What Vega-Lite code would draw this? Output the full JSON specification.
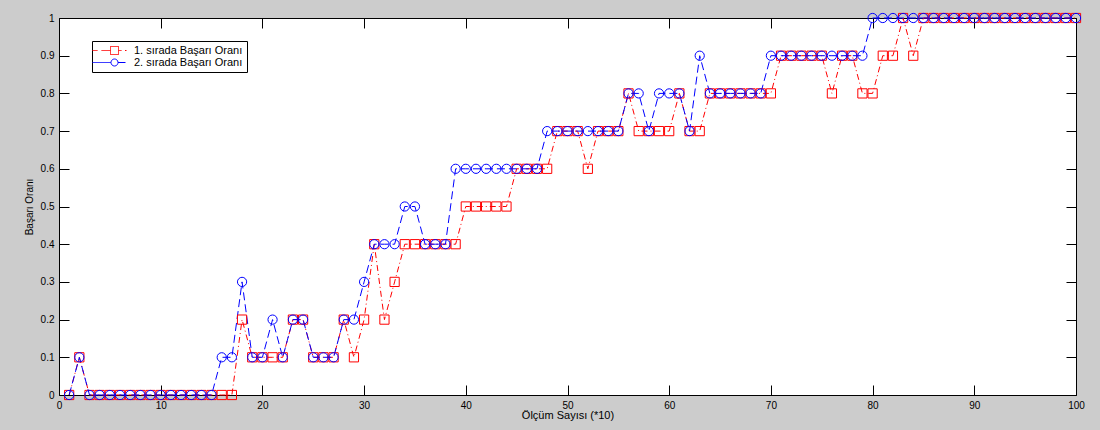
{
  "$schema": "https://vega.github.io/schema/vega-lite/v6.json",
  "width": 1017,
  "height": 377,
  "autosize": {"type": "none"},
  "padding": {"left": 59, "top": 18, "right": 24, "bottom": 35},
  "background": "#cccccc",
  "config": {
    "view": {"stroke": "#000000", "strokeWidth": 1, "fill": "#ffffff"},
    "font": "Liberation Sans",
    "axis": {
      "tickSize": -10,
      "tickColor": "#000000",
      "tickWidth": 1,
      "domain": false,
      "grid": false,
      "labelFont": "Liberation Sans",
      "labelFontSize": 10,
      "labelColor": "#000000",
      "labelPadding": 15,
      "titleFont": "Liberation Sans",
      "titleFontWeight": "normal",
      "titleColor": "#000000"
    }
  },
  "data": {
    "values": [
      {"n":1,"s":"1. sırada Başarı Oranı","v":0},
      {"n":2,"s":"1. sırada Başarı Oranı","v":0.1},
      {"n":3,"s":"1. sırada Başarı Oranı","v":0},
      {"n":4,"s":"1. sırada Başarı Oranı","v":0},
      {"n":5,"s":"1. sırada Başarı Oranı","v":0},
      {"n":6,"s":"1. sırada Başarı Oranı","v":0},
      {"n":7,"s":"1. sırada Başarı Oranı","v":0},
      {"n":8,"s":"1. sırada Başarı Oranı","v":0},
      {"n":9,"s":"1. sırada Başarı Oranı","v":0},
      {"n":10,"s":"1. sırada Başarı Oranı","v":0},
      {"n":11,"s":"1. sırada Başarı Oranı","v":0},
      {"n":12,"s":"1. sırada Başarı Oranı","v":0},
      {"n":13,"s":"1. sırada Başarı Oranı","v":0},
      {"n":14,"s":"1. sırada Başarı Oranı","v":0},
      {"n":15,"s":"1. sırada Başarı Oranı","v":0},
      {"n":16,"s":"1. sırada Başarı Oranı","v":0},
      {"n":17,"s":"1. sırada Başarı Oranı","v":0},
      {"n":18,"s":"1. sırada Başarı Oranı","v":0.2},
      {"n":19,"s":"1. sırada Başarı Oranı","v":0.1},
      {"n":20,"s":"1. sırada Başarı Oranı","v":0.1},
      {"n":21,"s":"1. sırada Başarı Oranı","v":0.1},
      {"n":22,"s":"1. sırada Başarı Oranı","v":0.1},
      {"n":23,"s":"1. sırada Başarı Oranı","v":0.2},
      {"n":24,"s":"1. sırada Başarı Oranı","v":0.2},
      {"n":25,"s":"1. sırada Başarı Oranı","v":0.1},
      {"n":26,"s":"1. sırada Başarı Oranı","v":0.1},
      {"n":27,"s":"1. sırada Başarı Oranı","v":0.1},
      {"n":28,"s":"1. sırada Başarı Oranı","v":0.2},
      {"n":29,"s":"1. sırada Başarı Oranı","v":0.1},
      {"n":30,"s":"1. sırada Başarı Oranı","v":0.2},
      {"n":31,"s":"1. sırada Başarı Oranı","v":0.4},
      {"n":32,"s":"1. sırada Başarı Oranı","v":0.2},
      {"n":33,"s":"1. sırada Başarı Oranı","v":0.3},
      {"n":34,"s":"1. sırada Başarı Oranı","v":0.4},
      {"n":35,"s":"1. sırada Başarı Oranı","v":0.4},
      {"n":36,"s":"1. sırada Başarı Oranı","v":0.4},
      {"n":37,"s":"1. sırada Başarı Oranı","v":0.4},
      {"n":38,"s":"1. sırada Başarı Oranı","v":0.4},
      {"n":39,"s":"1. sırada Başarı Oranı","v":0.4},
      {"n":40,"s":"1. sırada Başarı Oranı","v":0.5},
      {"n":41,"s":"1. sırada Başarı Oranı","v":0.5},
      {"n":42,"s":"1. sırada Başarı Oranı","v":0.5},
      {"n":43,"s":"1. sırada Başarı Oranı","v":0.5},
      {"n":44,"s":"1. sırada Başarı Oranı","v":0.5},
      {"n":45,"s":"1. sırada Başarı Oranı","v":0.6},
      {"n":46,"s":"1. sırada Başarı Oranı","v":0.6},
      {"n":47,"s":"1. sırada Başarı Oranı","v":0.6},
      {"n":48,"s":"1. sırada Başarı Oranı","v":0.6},
      {"n":49,"s":"1. sırada Başarı Oranı","v":0.7},
      {"n":50,"s":"1. sırada Başarı Oranı","v":0.7},
      {"n":51,"s":"1. sırada Başarı Oranı","v":0.7},
      {"n":52,"s":"1. sırada Başarı Oranı","v":0.6},
      {"n":53,"s":"1. sırada Başarı Oranı","v":0.7},
      {"n":54,"s":"1. sırada Başarı Oranı","v":0.7},
      {"n":55,"s":"1. sırada Başarı Oranı","v":0.7},
      {"n":56,"s":"1. sırada Başarı Oranı","v":0.8},
      {"n":57,"s":"1. sırada Başarı Oranı","v":0.7},
      {"n":58,"s":"1. sırada Başarı Oranı","v":0.7},
      {"n":59,"s":"1. sırada Başarı Oranı","v":0.7},
      {"n":60,"s":"1. sırada Başarı Oranı","v":0.7},
      {"n":61,"s":"1. sırada Başarı Oranı","v":0.8},
      {"n":62,"s":"1. sırada Başarı Oranı","v":0.7},
      {"n":63,"s":"1. sırada Başarı Oranı","v":0.7},
      {"n":64,"s":"1. sırada Başarı Oranı","v":0.8},
      {"n":65,"s":"1. sırada Başarı Oranı","v":0.8},
      {"n":66,"s":"1. sırada Başarı Oranı","v":0.8},
      {"n":67,"s":"1. sırada Başarı Oranı","v":0.8},
      {"n":68,"s":"1. sırada Başarı Oranı","v":0.8},
      {"n":69,"s":"1. sırada Başarı Oranı","v":0.8},
      {"n":70,"s":"1. sırada Başarı Oranı","v":0.8},
      {"n":71,"s":"1. sırada Başarı Oranı","v":0.9},
      {"n":72,"s":"1. sırada Başarı Oranı","v":0.9},
      {"n":73,"s":"1. sırada Başarı Oranı","v":0.9},
      {"n":74,"s":"1. sırada Başarı Oranı","v":0.9},
      {"n":75,"s":"1. sırada Başarı Oranı","v":0.9},
      {"n":76,"s":"1. sırada Başarı Oranı","v":0.8},
      {"n":77,"s":"1. sırada Başarı Oranı","v":0.9},
      {"n":78,"s":"1. sırada Başarı Oranı","v":0.9},
      {"n":79,"s":"1. sırada Başarı Oranı","v":0.8},
      {"n":80,"s":"1. sırada Başarı Oranı","v":0.8},
      {"n":81,"s":"1. sırada Başarı Oranı","v":0.9},
      {"n":82,"s":"1. sırada Başarı Oranı","v":0.9},
      {"n":83,"s":"1. sırada Başarı Oranı","v":1},
      {"n":84,"s":"1. sırada Başarı Oranı","v":0.9},
      {"n":85,"s":"1. sırada Başarı Oranı","v":1},
      {"n":86,"s":"1. sırada Başarı Oranı","v":1},
      {"n":87,"s":"1. sırada Başarı Oranı","v":1},
      {"n":88,"s":"1. sırada Başarı Oranı","v":1},
      {"n":89,"s":"1. sırada Başarı Oranı","v":1},
      {"n":90,"s":"1. sırada Başarı Oranı","v":1},
      {"n":91,"s":"1. sırada Başarı Oranı","v":1},
      {"n":92,"s":"1. sırada Başarı Oranı","v":1},
      {"n":93,"s":"1. sırada Başarı Oranı","v":1},
      {"n":94,"s":"1. sırada Başarı Oranı","v":1},
      {"n":95,"s":"1. sırada Başarı Oranı","v":1},
      {"n":96,"s":"1. sırada Başarı Oranı","v":1},
      {"n":97,"s":"1. sırada Başarı Oranı","v":1},
      {"n":98,"s":"1. sırada Başarı Oranı","v":1},
      {"n":99,"s":"1. sırada Başarı Oranı","v":1},
      {"n":100,"s":"1. sırada Başarı Oranı","v":1},
      {"n":1,"s":"2. sırada Başarı Oranı","v":0},
      {"n":2,"s":"2. sırada Başarı Oranı","v":0.1},
      {"n":3,"s":"2. sırada Başarı Oranı","v":0},
      {"n":4,"s":"2. sırada Başarı Oranı","v":0},
      {"n":5,"s":"2. sırada Başarı Oranı","v":0},
      {"n":6,"s":"2. sırada Başarı Oranı","v":0},
      {"n":7,"s":"2. sırada Başarı Oranı","v":0},
      {"n":8,"s":"2. sırada Başarı Oranı","v":0},
      {"n":9,"s":"2. sırada Başarı Oranı","v":0},
      {"n":10,"s":"2. sırada Başarı Oranı","v":0},
      {"n":11,"s":"2. sırada Başarı Oranı","v":0},
      {"n":12,"s":"2. sırada Başarı Oranı","v":0},
      {"n":13,"s":"2. sırada Başarı Oranı","v":0},
      {"n":14,"s":"2. sırada Başarı Oranı","v":0},
      {"n":15,"s":"2. sırada Başarı Oranı","v":0},
      {"n":16,"s":"2. sırada Başarı Oranı","v":0.1},
      {"n":17,"s":"2. sırada Başarı Oranı","v":0.1},
      {"n":18,"s":"2. sırada Başarı Oranı","v":0.3},
      {"n":19,"s":"2. sırada Başarı Oranı","v":0.1},
      {"n":20,"s":"2. sırada Başarı Oranı","v":0.1},
      {"n":21,"s":"2. sırada Başarı Oranı","v":0.2},
      {"n":22,"s":"2. sırada Başarı Oranı","v":0.1},
      {"n":23,"s":"2. sırada Başarı Oranı","v":0.2},
      {"n":24,"s":"2. sırada Başarı Oranı","v":0.2},
      {"n":25,"s":"2. sırada Başarı Oranı","v":0.1},
      {"n":26,"s":"2. sırada Başarı Oranı","v":0.1},
      {"n":27,"s":"2. sırada Başarı Oranı","v":0.1},
      {"n":28,"s":"2. sırada Başarı Oranı","v":0.2},
      {"n":29,"s":"2. sırada Başarı Oranı","v":0.2},
      {"n":30,"s":"2. sırada Başarı Oranı","v":0.3},
      {"n":31,"s":"2. sırada Başarı Oranı","v":0.4},
      {"n":32,"s":"2. sırada Başarı Oranı","v":0.4},
      {"n":33,"s":"2. sırada Başarı Oranı","v":0.4},
      {"n":34,"s":"2. sırada Başarı Oranı","v":0.5},
      {"n":35,"s":"2. sırada Başarı Oranı","v":0.5},
      {"n":36,"s":"2. sırada Başarı Oranı","v":0.4},
      {"n":37,"s":"2. sırada Başarı Oranı","v":0.4},
      {"n":38,"s":"2. sırada Başarı Oranı","v":0.4},
      {"n":39,"s":"2. sırada Başarı Oranı","v":0.6},
      {"n":40,"s":"2. sırada Başarı Oranı","v":0.6},
      {"n":41,"s":"2. sırada Başarı Oranı","v":0.6},
      {"n":42,"s":"2. sırada Başarı Oranı","v":0.6},
      {"n":43,"s":"2. sırada Başarı Oranı","v":0.6},
      {"n":44,"s":"2. sırada Başarı Oranı","v":0.6},
      {"n":45,"s":"2. sırada Başarı Oranı","v":0.6},
      {"n":46,"s":"2. sırada Başarı Oranı","v":0.6},
      {"n":47,"s":"2. sırada Başarı Oranı","v":0.6},
      {"n":48,"s":"2. sırada Başarı Oranı","v":0.7},
      {"n":49,"s":"2. sırada Başarı Oranı","v":0.7},
      {"n":50,"s":"2. sırada Başarı Oranı","v":0.7},
      {"n":51,"s":"2. sırada Başarı Oranı","v":0.7},
      {"n":52,"s":"2. sırada Başarı Oranı","v":0.7},
      {"n":53,"s":"2. sırada Başarı Oranı","v":0.7},
      {"n":54,"s":"2. sırada Başarı Oranı","v":0.7},
      {"n":55,"s":"2. sırada Başarı Oranı","v":0.7},
      {"n":56,"s":"2. sırada Başarı Oranı","v":0.8},
      {"n":57,"s":"2. sırada Başarı Oranı","v":0.8},
      {"n":58,"s":"2. sırada Başarı Oranı","v":0.7},
      {"n":59,"s":"2. sırada Başarı Oranı","v":0.8},
      {"n":60,"s":"2. sırada Başarı Oranı","v":0.8},
      {"n":61,"s":"2. sırada Başarı Oranı","v":0.8},
      {"n":62,"s":"2. sırada Başarı Oranı","v":0.7},
      {"n":63,"s":"2. sırada Başarı Oranı","v":0.9},
      {"n":64,"s":"2. sırada Başarı Oranı","v":0.8},
      {"n":65,"s":"2. sırada Başarı Oranı","v":0.8},
      {"n":66,"s":"2. sırada Başarı Oranı","v":0.8},
      {"n":67,"s":"2. sırada Başarı Oranı","v":0.8},
      {"n":68,"s":"2. sırada Başarı Oranı","v":0.8},
      {"n":69,"s":"2. sırada Başarı Oranı","v":0.8},
      {"n":70,"s":"2. sırada Başarı Oranı","v":0.9},
      {"n":71,"s":"2. sırada Başarı Oranı","v":0.9},
      {"n":72,"s":"2. sırada Başarı Oranı","v":0.9},
      {"n":73,"s":"2. sırada Başarı Oranı","v":0.9},
      {"n":74,"s":"2. sırada Başarı Oranı","v":0.9},
      {"n":75,"s":"2. sırada Başarı Oranı","v":0.9},
      {"n":76,"s":"2. sırada Başarı Oranı","v":0.9},
      {"n":77,"s":"2. sırada Başarı Oranı","v":0.9},
      {"n":78,"s":"2. sırada Başarı Oranı","v":0.9},
      {"n":79,"s":"2. sırada Başarı Oranı","v":0.9},
      {"n":80,"s":"2. sırada Başarı Oranı","v":1},
      {"n":81,"s":"2. sırada Başarı Oranı","v":1},
      {"n":82,"s":"2. sırada Başarı Oranı","v":1},
      {"n":83,"s":"2. sırada Başarı Oranı","v":1},
      {"n":84,"s":"2. sırada Başarı Oranı","v":1},
      {"n":85,"s":"2. sırada Başarı Oranı","v":1},
      {"n":86,"s":"2. sırada Başarı Oranı","v":1},
      {"n":87,"s":"2. sırada Başarı Oranı","v":1},
      {"n":88,"s":"2. sırada Başarı Oranı","v":1},
      {"n":89,"s":"2. sırada Başarı Oranı","v":1},
      {"n":90,"s":"2. sırada Başarı Oranı","v":1},
      {"n":91,"s":"2. sırada Başarı Oranı","v":1},
      {"n":92,"s":"2. sırada Başarı Oranı","v":1},
      {"n":93,"s":"2. sırada Başarı Oranı","v":1},
      {"n":94,"s":"2. sırada Başarı Oranı","v":1},
      {"n":95,"s":"2. sırada Başarı Oranı","v":1},
      {"n":96,"s":"2. sırada Başarı Oranı","v":1},
      {"n":97,"s":"2. sırada Başarı Oranı","v":1},
      {"n":98,"s":"2. sırada Başarı Oranı","v":1},
      {"n":99,"s":"2. sırada Başarı Oranı","v":1},
      {"n":100,"s":"2. sırada Başarı Oranı","v":1}
    ]
  },
  "resolve": {"axis": {"x": "independent", "y": "independent"}},
  "layer": [
    {
      "mark": {"type": "line", "strokeWidth": 1},
      "encoding": {
        "x": {
          "field": "n", "type": "quantitative",
          "scale": {"domain": [0, 100], "nice": false, "zero": false},
          "axis": {"orient": "bottom", "values": [0,10,20,30,40,50,60,70,80,90,100], "labelFlush": false, "title": "Ölçüm Sayısı (*10)", "titleFontSize": 11, "titlePadding": -1}
        },
        "y": {
          "field": "v", "type": "quantitative",
          "scale": {"domain": [0, 1], "nice": false},
          "axis": {"orient": "left", "values": [0,0.1,0.2,0.3,0.4,0.5,0.6,0.7,0.8,0.9,1], "format": ".1~f", "title": "Başarı Oranı", "titleFontSize": 10, "titlePadding": 6}
        },
        "color": {
          "field": "s", "type": "nominal",
          "scale": {"domain": ["1. sırada Başarı Oranı", "2. sırada Başarı Oranı"], "range": ["#ff0000", "#0000ff"]},
          "legend": {
            "orient": "none", "legendX": 33, "legendY": 23, "title": null,
            "fillColor": "#ffffff", "strokeColor": "#000000", "padding": 4, "cornerRadius": 0,
            "labelFont": "Liberation Sans", "labelFontSize": 11, "labelColor": "#000000",
            "symbolSize": 100, "symbolOffset": 13, "labelOffset": 14, "rowPadding": -2,
            "encode": {
              "symbols": {
                "update": {
                  "shape": {"signal": "datum.value === '1. sırada Başarı Oranı' ? 'M-4.4,0L-3.4,0M-2.6,0L-0.8,0M-0.8,-0.8L0.8,-0.8L0.8,0.8L-0.8,0.8ZM0.8,0L1.4,0M2.1,0L2.4,0' : 'M-4.4,0L-0.7,0M0.7,0A0.7,0.7,0,1,1,-0.7,0A0.7,0.7,0,1,1,0.7,0M0.7,0L2.2,0'"},
                  "fill": {"value": "transparent"},
                  "strokeWidth": {"value": 1},
                  "strokeDash": {"value": [1, 0]}
                }
              }
            }
          }
        },
        "strokeDash": {
          "field": "s", "type": "nominal",
          "scale": {"domain": ["2. sırada Başarı Oranı", "1. sırada Başarı Oranı"], "range": [[8,4],[6,3,1,3]]},
          "legend": null
        }
      }
    },
    {
      "mark": {"type": "point", "filled": false, "size": 85, "strokeWidth": 1, "opacity": 1},
      "encoding": {
        "x": {"field": "n", "type": "quantitative", "axis": null},
        "y": {"field": "v", "type": "quantitative", "axis": null},
        "stroke": {
          "field": "s", "type": "nominal",
          "scale": {"domain": ["2. sırada Başarı Oranı", "1. sırada Başarı Oranı"], "range": ["#0000ff", "#ff0000"]},
          "legend": null
        },
        "shape": {
          "field": "s", "type": "nominal",
          "scale": {"domain": ["2. sırada Başarı Oranı", "1. sırada Başarı Oranı"], "range": ["circle", "square"]},
          "legend": null
        }
      }
    },
    {
      "mark": {"type": "point", "opacity": 0},
      "encoding": {
        "x": {"field": "n", "type": "quantitative", "axis": {"orient": "top", "values": [0,10,20,30,40,50,60,70,80,90,100], "labels": false, "title": null}},
        "y": {"field": "v", "type": "quantitative", "axis": {"orient": "right", "values": [0,0.1,0.2,0.3,0.4,0.5,0.6,0.7,0.8,0.9,1], "labels": false, "title": null}}
      }
    }
  ]
}
